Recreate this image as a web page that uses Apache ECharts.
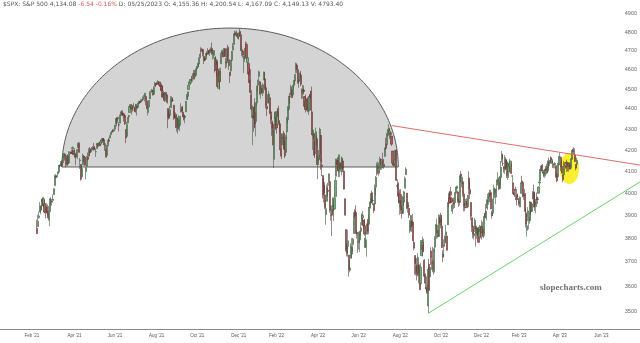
<!DOCTYPE html>
<html><head><meta charset="utf-8">
<script src="https://cdn.jsdelivr.net/npm/echarts@6/dist/echarts.min.js"></script>
<style>html,body{margin:0;padding:0;background:#fff}#c{width:640px;height:343px}</style>
</head><body><div id="c"></div>
<script>
// Daily S&P 500 candles [open, high, low, close], trading days from 2021-03-08 to 2023-05-25
const ohlc2021 = [
[3844,3881,3819,3821],[3851,3903,3851,3875],[3891,3918,3885,3898],[3915,3960,3915,3939],[3924,3944,3905,3943],
[3942,3970,3923,3969],[3973,3981,3943,3962],[3949,3983,3935,3974],[3953,3969,3910,3915],[3913,3930,3887,3913],
[3917,3955,3915,3940],[3937,3949,3901,3910],[3919,3942,3889,3889],[3879,3919,3853,3909],[3917,3978,3917,3974],
[3969,3981,3944,3971],[3963,3968,3944,3959],[3967,3994,3967,3973],
[3993,4021,3993,4020],[4034,4084,4034,4077],[4075,4087,4069,4074],[4074,4083,4068,4080],[4089,4098,4082,4097],
[4096,4129,4095,4129],[4124,4132,4119,4128],[4130,4148,4124,4142],[4141,4152,4120,4125],[4140,4174,4140,4170],
[4175,4186,4166,4185],[4180,4180,4150,4163],[4160,4165,4119,4135],[4128,4175,4126,4173],[4171,4179,4128,4135],
[4139,4195,4139,4180],[4185,4194,4183,4187],[4188,4193,4181,4186],[4185,4201,4181,4184],[4206,4218,4176,4211],
[4198,4199,4175,4181],
[4191,4209,4188,4192],[4180,4187,4128,4165],[4178,4186,4164,4168],[4170,4203,4157,4202],[4211,4238,4210,4233],
[4229,4237,4188,4189],[4150,4162,4111,4153],[4131,4134,4057,4063],[4075,4131,4075,4113],[4130,4183,4130,4174],
[4170,4172,4143,4164],[4166,4170,4125,4128],[4099,4117,4062,4116],[4122,4172,4122,4159],[4168,4188,4151,4156],
[4171,4209,4171,4197],[4206,4214,4176,4188],[4191,4202,4187,4195],[4201,4214,4197,4200],[4210,4218,4204,4204],
[4216,4234,4197,4202],[4207,4217,4199,4208],[4191,4205,4167,4192],[4207,4234,4207,4230],[4229,4232,4215,4226],
[4233,4236,4215,4227],[4232,4238,4219,4220],[4228,4249,4220,4239],[4242,4249,4233,4247],[4248,4255,4234,4255],
[4255,4258,4242,4247],[4249,4251,4196,4224],[4220,4233,4206,4222],[4205,4205,4165,4166],[4174,4226,4174,4224],
[4228,4255,4218,4246],[4249,4256,4241,4242],[4257,4271,4257,4266],[4274,4286,4267,4281],[4285,4292,4280,4291],
[4293,4300,4287,4291],[4291,4302,4287,4298],
[4301,4321,4301,4320],[4327,4355,4323,4352],[4356,4358,4314,4343],[4351,4361,4330,4358],[4322,4334,4289,4320],
[4330,4372,4330,4369],[4373,4387,4366,4385],[4381,4393,4368,4369],[4380,4394,4365,4375],[4374,4376,4337,4360],
[4367,4376,4321,4327],[4297,4301,4233,4258],[4266,4336,4262,4323],[4331,4359,4328,4359],[4361,4370,4351,4368],
[4382,4415,4381,4412],[4409,4422,4406,4422],[4416,4416,4372,4401],[4403,4415,4387,4400],[4408,4430,4403,4419],
[4395,4412,4386,4395],
[4406,4423,4381,4387],[4393,4424,4367,4423],[4415,4417,4403,4403],[4408,4430,4408,4429],[4429,4441,4423,4437],
[4437,4440,4424,4432],[4438,4449,4431,4436],[4442,4449,4436,4447],[4447,4461,4439,4460],[4464,4468,4461,4468],
[4462,4480,4437,4479],[4462,4462,4418,4448],[4440,4454,4400,4400],[4382,4419,4367,4406],[4410,4444,4406,4442],
[4450,4489,4450,4479],[4484,4492,4482,4486],[4490,4501,4485,4496],[4493,4496,4468,4470],[4474,4513,4471,4509],
[4514,4537,4514,4529],[4529,4531,4513,4523],
[4529,4537,4522,4524],[4534,4545,4528,4537],[4532,4541,4521,4535],[4536,4536,4513,4520],[4518,4521,4493,4514],
[4514,4529,4493,4493],[4506,4520,4457,4459],[4474,4492,4446,4468],[4479,4485,4435,4443],[4447,4486,4438,4481],
[4477,4485,4448,4473],[4470,4471,4427,4433],[4402,4402,4305,4358],[4375,4394,4347,4354],[4367,4416,4360,4396],
[4406,4465,4406,4449],[4439,4463,4433,4455],[4443,4457,4437,4443],[4419,4419,4346,4353],[4362,4385,4355,4360],
[4370,4382,4307,4308],
[4317,4375,4288,4357],[4348,4356,4279,4300],[4310,4369,4310,4345],[4319,4365,4290,4363],[4384,4429,4384,4399],
[4407,4413,4389,4391],[4385,4415,4360,4361],[4368,4374,4343,4350],[4358,4372,4329,4364],[4386,4439,4386,4438],
[4447,4475,4447,4471],[4463,4487,4447,4486],[4498,4523,4497,4520],[4524,4540,4524,4537],[4532,4549,4526,4549],
[4548,4560,4541,4545],[4553,4572,4538,4567],[4579,4598,4570,4575],[4580,4585,4551,4551],[4562,4598,4562,4597],
[4572,4608,4568,4605],
[4610,4620,4595,4614],[4613,4636,4604,4631],[4630,4664,4617,4660],[4662,4683,4662,4680],[4700,4718,4681,4697],
[4707,4715,4697,4702],[4707,4708,4670,4685],[4670,4685,4630,4646],[4659,4664,4648,4650],[4656,4688,4650,4683],
[4689,4697,4673,4682],[4680,4714,4680,4701],[4701,4701,4684,4689],[4700,4708,4672,4704],[4708,4718,4687,4698],
[4712,4744,4680,4682],[4679,4701,4652,4691],[4675,4702,4659,4701],[4664,4664,4585,4595],[4628,4672,4625,4655],
[4640,4647,4565,4567],
[4602,4652,4510,4513],[4504,4595,4504,4577],[4590,4608,4495,4538],[4548,4612,4540,4592],[4631,4694,4631,4687],
[4690,4705,4674,4701],[4691,4695,4665,4667],[4688,4713,4670,4712],[4710,4711,4666,4669],[4642,4660,4606,4635],
[4637,4712,4611,4710],[4719,4732,4647,4669],[4652,4667,4598,4621],[4587,4587,4531,4568],[4594,4651,4584,4650],
[4650,4697,4645,4697],[4703,4741,4703,4726],[4733,4791,4733,4791],[4795,4808,4781,4786],[4789,4804,4778,4793],
[4795,4808,4775,4778],[4776,4787,4766,4766]
];
const ohlc2022 = [
[4778,4797,4759,4797],[4804,4819,4775,4794],[4787,4798,4700,4701],[4693,4725,4671,4696],[4698,4708,4663,4677],
[4656,4674,4582,4670],[4670,4714,4639,4713],[4728,4749,4703,4726],[4733,4745,4652,4660],[4637,4666,4615,4663],
[4632,4633,4569,4577],[4589,4611,4530,4533],[4547,4603,4475,4483],[4471,4495,4395,4398],[4357,4418,4223,4410],
[4366,4411,4288,4357],[4408,4453,4305,4350],[4381,4429,4309,4327],[4337,4432,4265,4432],[4431,4516,4415,4516],
[4520,4547,4483,4546],[4566,4595,4544,4589],[4535,4542,4470,4477],[4482,4540,4451,4501],[4505,4521,4476,4484],
[4480,4531,4465,4522],[4547,4590,4547,4587],[4553,4589,4494,4504],[4507,4527,4402,4419],[4413,4427,4365,4401],
[4429,4472,4429,4472],[4456,4490,4429,4475],[4456,4456,4374,4380],[4385,4394,4327,4349],[4333,4363,4268,4305],
[4325,4342,4222,4226],[4156,4294,4115,4288],[4298,4385,4287,4385],[4354,4389,4318,4374],
[4364,4375,4279,4306],[4323,4401,4322,4387],[4402,4416,4345,4363],[4342,4343,4285,4329],[4327,4327,4199,4201],
[4203,4276,4157,4171],[4224,4279,4224,4278],[4253,4268,4209,4260],[4280,4292,4202,4204],[4203,4247,4162,4173],
[4189,4272,4187,4262],[4288,4358,4251,4358],[4346,4412,4329,4412],[4398,4465,4392,4463],[4463,4481,4425,4461],
[4470,4522,4468,4512],[4493,4502,4455,4457],[4470,4520,4465,4520],[4523,4546,4501,4543],[4541,4575,4517,4575],
[4603,4637,4581,4632],[4624,4627,4582,4602],[4600,4604,4530,4530],
[4541,4549,4507,4546],[4547,4583,4539,4583],[4572,4594,4514,4525],[4495,4503,4451,4481],[4474,4521,4451,4500],
[4495,4520,4482,4488],[4462,4464,4408,4413],[4437,4472,4382,4397],[4398,4453,4395,4447],[4449,4460,4392,4393],
[4385,4411,4370,4392],[4390,4471,4390,4463],[4473,4489,4450,4459],[4490,4513,4385,4394],[4385,4386,4268,4272],
[4255,4299,4201,4296],[4279,4279,4175,4175],[4187,4240,4162,4184],[4223,4308,4189,4288],[4254,4270,4131,4132],
[4131,4170,4063,4155],[4159,4200,4145,4175],[4181,4308,4152,4300],[4271,4271,4107,4147],[4129,4158,4077,4123],
[4081,4082,3976,3991],[4035,4068,3958,4001],[3991,4050,3928,3935],[3903,3965,3859,3930],[3963,4039,3963,4024],
[4013,4047,3984,4008],[4052,4090,4033,4088],[4052,4052,3912,3923],[3900,3946,3877,3901],[3927,3944,3810,3901],
[3919,3981,3909,3974],[3943,3956,3875,3941],[3929,3999,3925,3979],[3985,4075,3985,4058],[4077,4158,4077,4158],
[4152,4166,4104,4132],
[4149,4166,4074,4101],[4096,4177,4074,4177],[4137,4143,4098,4109],[4135,4169,4109,4121],[4097,4165,4081,4161],
[4148,4160,4107,4116],[4101,4119,4017,4018],[3975,3975,3901,3901],[3838,3839,3743,3750],[3764,3778,3723,3735],
[3765,3837,3722,3790],[3729,3729,3639,3667],[3665,3708,3657,3675],[3715,3779,3715,3765],[3733,3801,3717,3760],
[3774,3802,3743,3796],[3821,3913,3821,3912],[3920,3928,3889,3900],[3913,3945,3820,3821],[3826,3836,3800,3819],
[3786,3818,3738,3785],
[3782,3829,3752,3825],[3793,3832,3742,3831],[3831,3870,3810,3845],[3859,3910,3859,3903],[3889,3919,3876,3899],
[3880,3880,3847,3855],[3855,3885,3812,3819],[3761,3829,3759,3802],[3763,3796,3722,3790],[3818,3864,3818,3863],
[3883,3903,3818,3831],[3861,3939,3861,3937],[3935,3975,3931,3960],[3955,3999,3946,3999],[4002,4012,3955,3962],
[3966,3976,3946,3967],[3952,3954,3911,3921],[3951,4039,3951,4024],[4027,4078,3992,4072],[4087,4141,4079,4130],
[4112,4145,4097,4119],[4104,4141,4080,4091],[4107,4168,4107,4155],[4155,4162,4128,4152],[4115,4151,4107,4145],
[4155,4187,4128,4140],[4133,4138,4112,4122],[4171,4211,4167,4210],[4227,4258,4201,4208],[4225,4280,4219,4280],
[4270,4302,4262,4297],[4291,4325,4277,4305],[4280,4302,4253,4275],[4273,4292,4261,4284],[4267,4267,4219,4228],
[4195,4195,4130,4138],[4134,4150,4123,4128],[4126,4157,4122,4141],[4154,4200,4147,4199],[4199,4204,4057,4058],
[4034,4063,4017,4031],[4041,4050,3955,3986],[4000,4016,3954,3955],
[3937,3970,3903,3967],[3994,4019,3907,3924],[3930,3942,3886,3909],[3909,3987,3907,3980],[3959,4010,3944,4006],
[4022,4076,4022,4067],[4084,4119,4083,4110],[4000,4000,3928,3932],[3940,3961,3912,3946],[3932,3959,3888,3901],
[3831,3880,3823,3873],[3849,3901,3838,3900],[3876,3877,3828,3856],[3871,3907,3789,3790],[3783,3790,3749,3758],
[3727,3727,3647,3693],[3682,3716,3644,3655],[3687,3717,3623,3647],[3652,3737,3640,3719],[3688,3688,3611,3640],
[3634,3672,3584,3586],
[3610,3697,3604,3678],[3726,3791,3726,3791],[3753,3807,3723,3783],[3771,3798,3741,3744],[3707,3712,3637,3640],
[3647,3652,3588,3612],[3595,3640,3569,3589],[3590,3608,3571,3577],[3520,3686,3491,3670],[3690,3713,3582,3583],
[3638,3678,3638,3677],[3746,3762,3687,3720],[3696,3720,3667,3695],[3706,3764,3657,3666],[3657,3758,3647,3753],
[3762,3810,3744,3798],[3799,3862,3799,3859],[3825,3886,3824,3830],[3835,3859,3803,3807],[3808,3905,3808,3901],
[3881,3893,3863,3872],
[3902,3911,3843,3856],[3853,3894,3759,3760],[3733,3750,3699,3720],[3767,3796,3721,3771],[3780,3813,3764,3807],
[3817,3859,3786,3828],[3810,3818,3749,3749],[3859,3959,3859,3956],[3964,4002,3936,3993],[3978,4009,3951,3957],
[4006,4028,3953,3992],[3976,3984,3955,3959],[3919,3954,3907,3947],[3967,3980,3929,3965],[3956,3962,3933,3950],
[3958,4003,3956,4003],[4001,4034,3998,4028],[4023,4034,4020,4026],[4005,4012,3956,3964],[3964,3976,3938,3958],
[3958,4080,3944,4080],
[4087,4101,4050,4077],[4041,4077,4026,4072],[4052,4052,3984,3999],[3996,4002,3918,3941],[3937,3956,3919,3933],
[3947,3974,3936,3964],[3954,3977,3933,3934],[3939,3991,3937,3991],[4069,4100,3994,4019],[4016,4053,3973,3996],
[3958,3959,3879,3896],[3890,3890,3828,3852],[3853,3855,3800,3818],[3810,3838,3795,3821],[3839,3889,3827,3879],
[3853,3853,3765,3822],[3815,3846,3797,3845],[3843,3846,3813,3829],[3829,3849,3780,3783],[3805,3858,3805,3849],
[3829,3840,3800,3840]
];
const ohlc2023 = [
[3853,3879,3795,3825],[3840,3873,3815,3853],[3840,3840,3802,3808],[3823,3906,3809,3895],[3910,3951,3888,3893],
[3889,3920,3878,3919],[3932,3970,3924,3970],[3977,3998,3949,3983],[3960,4003,3947,3999],[3999,4015,3984,3991],
[4003,4015,3928,3929],[3912,3922,3886,3899],[3910,3973,3898,3973],[3979,4039,3972,4020],[4001,4026,3990,4017],
[3982,4020,3950,4016],[4036,4061,4013,4060],[4054,4095,4048,4071],[4049,4063,4015,4018],[4021,4077,4021,4077],
[4071,4149,4038,4119],[4158,4195,4141,4180],[4136,4182,4124,4136],[4120,4124,4093,4111],[4106,4176,4088,4164],
[4153,4157,4111,4118],[4144,4156,4069,4082],[4071,4095,4060,4090],[4097,4138,4092,4137],[4121,4159,4095,4136],
[4120,4148,4114,4148],[4115,4136,4088,4090],[4077,4081,4047,4079],[4046,4049,3995,3997],[4002,4017,3982,3991],
[4018,4029,3973,4012],[3974,3984,3944,3970],[3992,4019,3977,3982],[3977,3998,3969,3970],
[3964,3972,3943,3951],[3938,3985,3938,3981],[3998,4048,3998,4046],[4055,4079,4044,4048],[4048,4051,3981,3986],
[3987,4000,3969,3992],[3998,4018,3918,3918],[3912,3934,3847,3862],[3835,3905,3808,3855],[3895,3937,3874,3920],
[3877,3894,3839,3892],[3878,3964,3864,3960],[3959,3959,3901,3917],[3918,3956,3917,3951],[3975,4009,3972,4003],
[4003,4039,3937,3937],[3960,4007,3919,3949],[3939,3973,3909,3971],[3982,4003,3970,3977],[3974,3979,3951,3971],
[3999,4031,3999,4028],[4046,4057,4032,4051],[4057,4110,4057,4109],
[4102,4128,4102,4125],[4128,4134,4093,4101],[4096,4100,4072,4091],[4081,4108,4070,4105],[4086,4110,4076,4110],
[4111,4125,4102,4109],[4122,4134,4086,4092],[4100,4151,4099,4146],[4140,4164,4113,4138],[4137,4152,4124,4152],
[4164,4170,4140,4154],[4139,4162,4134,4155],[4131,4149,4115,4130],[4132,4138,4114,4133],[4132,4143,4113,4137],
[4126,4127,4072,4072],[4088,4089,4049,4056],[4075,4139,4075,4136],[4129,4170,4127,4169],
[4166,4187,4165,4168],[4165,4165,4101,4120],[4122,4149,4091,4091],[4083,4087,4049,4061],[4084,4148,4084,4136],
[4137,4142,4124,4138],[4124,4131,4112,4119],[4143,4154,4098,4138],[4133,4133,4099,4131],[4138,4143,4099,4124],
[4126,4141,4110,4136],[4127,4136,4109,4110],[4122,4165,4113,4159],[4157,4202,4154,4198],[4204,4213,4180,4192],
[4192,4209,4180,4192],[4176,4186,4143,4146],[4132,4133,4104,4115],[4133,4164,4114,4151]
];
// x ticks: trading-day index of the tick and its text
const xTickIndex = [-5, 39, 81, 124, 166, 209, 248, 291, 333, 376, 418, 460, 499, 541, 584];
const xTickLabels = ["Feb '21","Apr '21","Jun '21","Aug '21","Oct '21","Dec '21","Feb '22","Apr '22","Jun '22","Aug '22","Oct '22","Dec '22","Feb '23","Apr '23","Jun '23"];
const yTickValues = [3500,3600,3700,3800,3900,4000,4100,4200,4300,4400,4500,4600,4700,4800,4900];
const headerMain = "$SPX: S&P 500 4,134.08 ";
const headerChange = "-6.54 -0.16%";
const headerRest = " D: 05/25/2023 O: 4,155.36 H: 4,200.54 L: 4,167.09 C: 4,149.13 V: 4793.40";
// drawn annotations, in data coordinates [trading-day index, price]
const domeArc = { left: 26, right: 374, base: 4120, top: 4822 };
const highlight = { left: 541, right: 561, top: 4186, bottom: 4041 };
const resistance = [[367, 4318], [624, 4129]];
const support = [[405, 3491], [624, 4051]];

const allDays = ohlc2021.concat(ohlc2022, ohlc2023);
const candles = allDays.map((d, i) => [i, d[0], d[3], d[2], d[1]]);

function renderUnder(params, api) {
  const L = api.coord([domeArc.left, domeArc.base]);
  const R = api.coord([domeArc.right, domeArc.base]);
  const T = api.coord([(domeArc.left + domeArc.right) / 2, domeArc.top]);
  const cx = (L[0] + R[0]) / 2, rx = (R[0] - L[0]) / 2, cy = L[1], ry = cy - T[1];
  const pts = [];
  for (let k = 0; k <= 120; k++) {
    const t = Math.PI * k / 120;
    pts.push([cx - rx * Math.cos(t), cy - ry * Math.sin(t)]);
  }
  const hl = api.coord([highlight.left, highlight.top]);
  const hr = api.coord([highlight.right, highlight.bottom]);
  return { type: 'group', children: [
    { type: 'polygon', shape: { points: pts }, style: { fill: '#d4d4d4', stroke: '#5c5c5c', lineWidth: 1 } },
    { type: 'ellipse', shape: { cx: (hl[0] + hr[0]) / 2, cy: (hl[1] + hr[1]) / 2, rx: (hr[0] - hl[0]) / 2, ry: (hr[1] - hl[1]) / 2 },
      style: { fill: 'rgba(246,238,30,0.92)' } }
  ]};
}

const chart = echarts.init(document.getElementById('c'), null, { renderer: 'canvas' });
chart.setOption({
  animation: false,
  backgroundColor: '#ffffff',
  grid: { left: 0, right: 0, top: 12, bottom: 14, containLabel: false },
  xAxis: {
    type: 'value', min: -38, max: 624,
    axisLine: { show: true, lineStyle: { color: '#8a8a8a', width: 1 } },
    axisTick: { show: false }, splitLine: { show: false },
    axisLabel: {
      customValues: xTickIndex,
      formatter: v => xTickLabels[xTickIndex.indexOf(v)] || '',
      fontSize: 4.5, color: '#555', margin: 4, fontFamily: 'Liberation Sans'
    }
  },
  yAxis: {
    type: 'log', logBase: 10, min: 3429.4, max: 4910.5, position: 'right',
    axisLine: { show: false }, axisTick: { show: false }, splitLine: { show: false },
    axisLabel: {
      inside: true, customValues: yTickValues,
      formatter: v => String(Math.round(v)),
      fontSize: 5.5, color: '#666', margin: 3, fontFamily: 'Liberation Sans'
    }
  },
  graphic: [
    { type: 'text', left: 3, top: 1, silent: true,
      style: { text: '{a|' + headerMain + '}{r|' + headerChange + '}{a|' + headerRest + '}',
        rich: { a: { fontSize: 6, fill: '#555', fontFamily: 'DejaVu Sans' },
                r: { fontSize: 6, fill: '#e25a5a', fontFamily: 'DejaVu Sans' } } } },
    { type: 'text', left: 540, top: 283, silent: true,
      style: { text: 'slopecharts.com', fontSize: 9, fontWeight: 'bold', fontFamily: 'Liberation Serif', fill: '#727272' } }
  ],
  series: [
    { type: 'custom', z: 1, silent: true, renderItem: renderUnder, data: [[0, 4000]], encode: { x: 0, y: 1 } },
    { type: 'candlestick', z: 2, large: false, barWidth: 1.6, data: candles,
      itemStyle: { color: '#74ad74', color0: '#b05858', borderColor: '#3f5a3f', borderColor0: '#5e3232', borderWidth: 0.6 } },
    { type: 'line', z: 3, silent: true, data: resistance, symbol: 'none', lineStyle: { color: '#e06a6a', width: 1 } },
    { type: 'line', z: 3, silent: true, data: support, symbol: 'none', lineStyle: { color: '#6fcf6f', width: 1 } }
  ]
});
</script></body></html>
